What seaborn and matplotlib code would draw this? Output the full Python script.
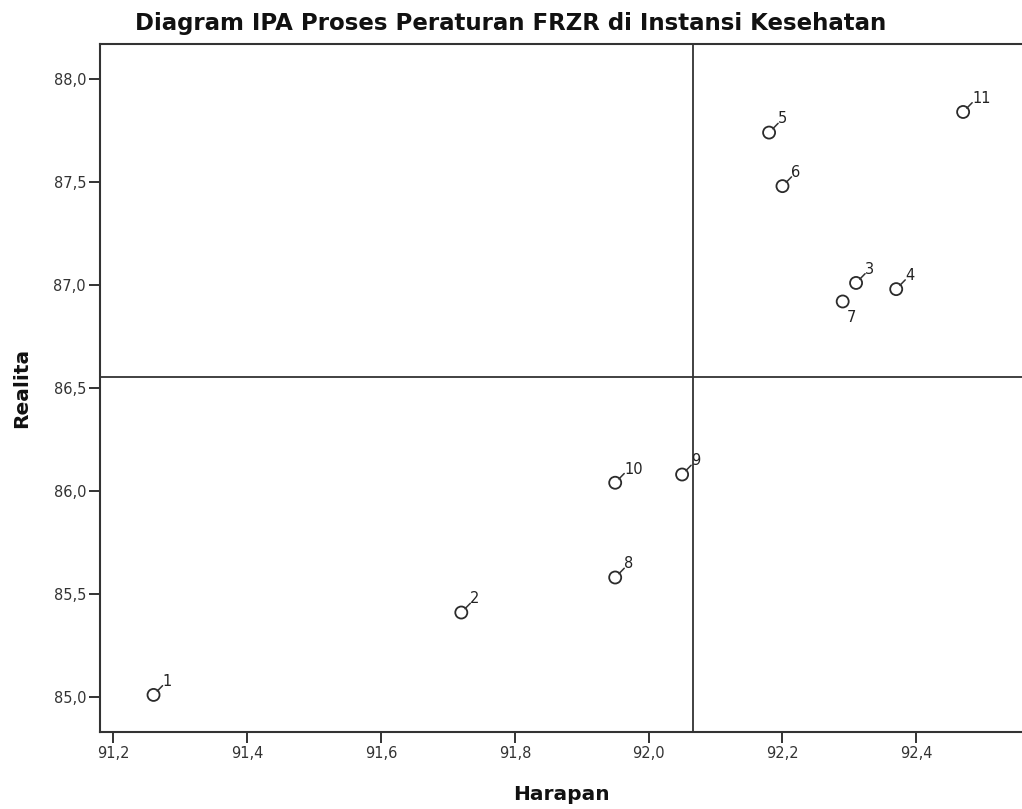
import matplotlib
matplotlib.use("Agg")
import matplotlib.pyplot as plt
import seaborn as sns
import pandas as pd
from matplotlib.ticker import FixedLocator, FuncFormatter

# Data
labels = ["1", "2", "3", "4", "5", "6", "7", "8", "9", "10", "11"]
harapan = [91.26, 91.72, 92.31, 92.37, 92.18, 92.20, 92.29, 91.95, 92.05, 91.95, 92.47]
realita = [85.01, 85.41, 87.01, 86.98, 87.74, 87.48, 86.92, 85.58, 86.08, 86.04, 87.84]
x_ticks = [91.2, 91.4, 91.6, 91.8, 92.0, 92.2, 92.4]
y_ticks = [85.0, 85.5, 86.0, 86.5, 87.0, 87.5, 88.0]
x_mean = 92.067
y_mean = 86.553

df = pd.DataFrame({"Harapan": harapan, "Realita": realita, "label": labels})

sns.set_theme(style="white")
plt.rcParams["font.family"] = ["DejaVu Sans"]

fig = plt.figure(figsize=(10.22, 8.09), dpi=100)
ax = fig.add_axes([100/1022, 1 - 732/809, 1 - 100/1022, (732 - 44)/809])

sns.scatterplot(data=df, x="Harapan", y="Realita", ax=ax, s=75,
                facecolor="none", edgecolor="#2b2b2b", linewidth=1.3, zorder=3)

ax.axvline(x_mean, color="#333333", lw=1.3, zorder=1)
ax.axhline(y_mean, color="#333333", lw=1.3, zorder=1)

for lab, xv, yv in zip(labels, harapan, realita):
    if lab == "7":
        ax.annotate(lab, (xv, yv), xytext=(3, -6), textcoords="offset points",
                    fontsize=10.5, color="#222222", ha="left", va="top")
    else:
        ax.annotate(lab, (xv, yv), xytext=(6.5, 4.5), textcoords="offset points",
                    fontsize=10.5, color="#222222", ha="left", va="bottom",
                    arrowprops=dict(arrowstyle="-", color="#333333", lw=1.1,
                                    shrinkA=0, shrinkB=3.8, patchA=None,
                                    relpos=(0.0, 0.2)))

ax.set_xlim(91.18, 92.558)
ax.set_ylim(84.83, 88.17)
ax.xaxis.set_major_locator(FixedLocator(x_ticks))
ax.yaxis.set_major_locator(FixedLocator(y_ticks))
ax.xaxis.set_major_formatter(FuncFormatter(lambda v, p: f"{v:.1f}".replace(".", ",")))
ax.yaxis.set_major_formatter(FuncFormatter(lambda v, p: f"{v:.1f}".replace(".", ",")))
ax.tick_params(axis="both", direction="out", length=8, width=1.4, color="#333333",
               labelsize=10.5, labelcolor="#333333", bottom=True, left=True, pad=2)

for side in ["left", "bottom", "top"]:
    ax.spines[side].set_visible(True)
    ax.spines[side].set_color("#333333")
    ax.spines[side].set_linewidth(1.5)
ax.spines["right"].set_visible(False)

ax.set_xlabel("Harapan", fontsize=14.5, fontweight="bold", color="#111111")
ax.set_ylabel("Realita", fontsize=14.5, fontweight="bold", color="#111111")
ax.xaxis.label.set_va("center")
ax.yaxis.label.set_va("center")
ax.xaxis.set_label_coords(0.5, (732 - 794) / 688)
ax.yaxis.set_label_coords((22 - 100) / 922, 0.5)

fig.text(511/1022, 1 - 30/809, "Diagram IPA Proses Peraturan FRZR di Instansi Kesehatan",
         ha="center", va="baseline", fontsize=16.5, fontweight="bold", color="#111111")

fig.savefig("out.png", dpi=100, facecolor="white")
